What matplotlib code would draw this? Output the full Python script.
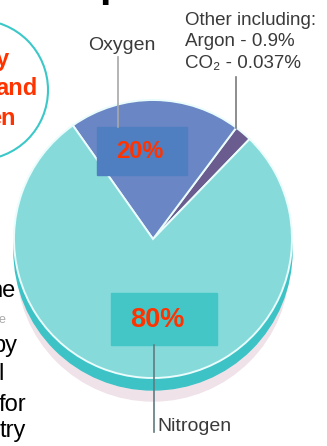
import matplotlib
matplotlib.use("Agg")
import matplotlib.pyplot as plt
from matplotlib.patches import Circle, Rectangle

# ---- data ----
categories = ["Other", "Oxygen", "Nitrogen"]
values = [2, 20, 78]
box_labels = ["20%", "80%"]
other_lines = ["Other including:", "Argon - 0.9%", "CO\u2082 - 0.037%"]

plt.rcParams['font.family'] = ['Liberation Sans', 'DejaVu Sans']

fig = plt.figure(figsize=(3.27, 4.46), dpi=100)
ax = fig.add_axes([0, 0, 1, 1])

cx, cy, R = 153, 239, 139

# 3D side + shadow
ax.add_patch(Circle((cx, cy + 26), R - 3, color='#efe2e8', zorder=0))
ax.add_patch(Circle((cx, cy + 12), R, color='#3dc3c6', zorder=1))

colors = ['#6a5c8e', '#6b86c4', '#86dada']
wedges, _ = ax.pie(values, colors=colors, startangle=-46, counterclock=False,
                   center=(cx, cy), radius=R,
                   wedgeprops=dict(edgecolor='#eafcfc', linewidth=1.4))
for w in wedges:
    w.set_zorder(2)

ax.set_xlim(0, 327)
ax.set_ylim(446, 0)
ax.set_aspect('auto')
ax.axis('off')

# percentage boxes
ax.add_patch(Rectangle((97, 127), 90, 48, color='#4f7fc1', zorder=3))
ax.text(139.5, 152, box_labels[0], color='#ff3300', fontsize=17, fontweight='bold',
        ha='center', va='center', zorder=4)
ax.add_patch(Rectangle((111, 293), 106, 52, color='#45c6c6', zorder=3))
ax.text(157, 320, box_labels[1], color='#ff3300', fontsize=19.5, fontweight='bold',
        ha='center', va='center', zorder=4)

# leader lines
ax.plot([118, 118], [57, 127], color='#a8a8a8', lw=1.2, zorder=3)
ax.plot([236, 236], [77, 128], color='#7a7a7a', lw=1.2, zorder=3)
ax.plot([154, 154], [345, 432], color='#5f7c80', lw=1.2, zorder=3)

# labels
ax.text(88, 50, "Oxygen", color='#3a3a3a', fontsize=14, ha='left', va='baseline')
for i, line in enumerate(other_lines):
    ax.text(185, 25 + i * 21.5, line, color='#3a3a3a', fontsize=13.5,
            ha='left', va='baseline')
ax.text(157, 431, "Nitrogen", color='#3a3a3a', fontsize=14, ha='left', va='baseline')

# left circle with partial red text
ax.add_patch(Circle((-22, 90), 70, fill=False, ec='#3cc8c8', lw=1.5, zorder=3))
for txt, xr, yb in [("y", 9, 66), ("and", 37, 95), ("en", 16, 125)]:
    ax.text(xr, yb, txt, color='#ff3300', fontsize=17, fontweight='bold',
            ha='right', va='baseline', zorder=4)

# left black slide text fragments
for txt, xr, yb in [("he", 16, 297), ("by", 17, 352), ("l", 4, 380),
                    ("for", 26, 411), ("try", 25.5, 437)]:
    ax.text(xr, yb, txt, color='black', fontsize=17, ha='right', va='baseline', zorder=0)
ax.text(5, 323, "e", color='#aaaaaa', fontsize=9, ha='right', va='baseline', zorder=0)

# title fragment
ax.text(99, -4, "p", color='black', fontsize=30, fontweight='bold',
        ha='left', va='baseline')

fig.savefig("out.png", dpi=100)
